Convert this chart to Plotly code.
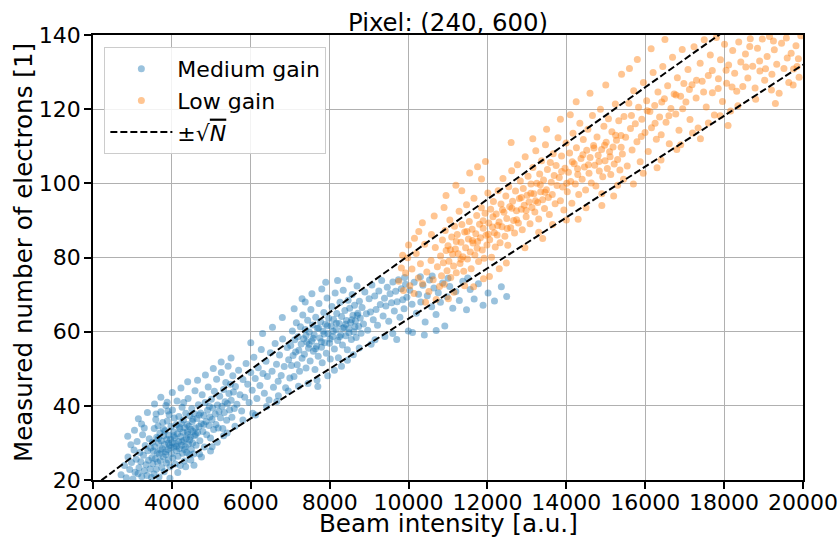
import plotly.graph_objects as go

# Medium gain samples (beam intensity [a.u.], measured electrons)
medium_points = [
    (2712,21.4),(2798,23.9),(2843,20.6),(2887,26.2),(2931,22.8),(2976,24.7),(3012,20.3),(3041,28.1),(3067,22.1),(3095,25.6),
    (3118,30.4),(3142,21.7),(3166,23.3),(3189,27.4),(3213,24.9),(3237,20.9),(3258,32.2),(3279,26.7),(3301,22.5),(3324,29.3),
    (3346,24.1),(3369,21.2),(3387,27.9),(3408,25.3),(3426,31.1),(3447,23.0),(3463,28.6),(3481,20.7),(3494,26.0),(3052,33.4),
    (2960,29.5),(3231,35.1),(2880,31.8),
    (3507,30.2),(3518,24.4),(3531,27.8),(3546,21.6),(3552,33.9),(3567,29.0),(3579,25.7),(3591,36.3),(3604,22.9),(3616,31.5),
    (3628,27.3),(3637,24.8),(3649,34.6),(3662,29.9),(3674,20.8),(3683,27.0),(3697,32.7),(3708,25.2),(3721,38.4),(3733,30.6),
    (3742,23.4),(3756,28.4),(3768,35.5),(3779,26.3),(3791,31.9),(3803,22.2),(3814,29.6),(3826,33.3),(3838,27.6),(3849,40.1),
    (3861,24.6),(3872,30.9),(3884,35.9),(3896,28.2),(3907,25.4),(3919,32.1),(3931,37.6),(3942,29.3),(3954,23.6),(3966,31.0),
    (3977,34.4),(3989,27.1),(4003,30.1),(4014,38.9),(4026,25.9),(4038,33.0),(4049,28.8),(4061,36.7),(4073,31.4),(4084,24.3),
    (4096,29.8),(4108,34.9),(4119,27.9),(4131,41.3),(4142,32.5),(4154,26.4),(4166,30.4),(4177,37.1),(4189,28.5),(4201,33.8),
    (4212,23.9),(4224,31.7),(4236,35.3),(4247,29.4),(4259,39.6),(4271,27.2),(4282,32.9),(4294,36.2),(4306,30.7),(4317,25.1),
    (4329,34.1),(4341,29.0),(4352,38.0),(4364,31.2),(4376,27.4),(4387,35.0),(4399,32.3),(4411,42.0),(4422,29.7),(4434,34.5),
    (4446,26.8),(4457,37.3),(4469,31.6),(4481,33.6),(4492,28.3),(4504,39.2),(4516,35.8),(4527,30.0),(4539,33.1),(4551,27.0),
    (4562,37.9),(4574,31.9),(4586,44.1),(4597,34.0),
    (4612,29.4),(4633,36.6),(4651,32.8),(4672,40.3),(4688,34.4),(4709,30.6),(4727,38.1),(4746,35.2),(4768,43.0),(4785,33.1),
    (4806,37.4),(4824,28.9),(4843,40.9),(4865,35.8),(4882,32.2),(4903,38.8),(4921,45.1),(4940,34.7),(4962,37.0),(4979,31.3),
    (5000,41.8),(5018,36.3),(5037,39.4),(5059,33.6),(5076,43.9),(5097,37.8),(5115,35.0),(5134,47.2),(5156,40.2),(5173,34.0),
    (5194,38.5),(5212,42.6),(5231,36.8),(5253,49.0),(5270,39.9),(5291,33.9),(5309,44.4),(5328,38.2),(5350,41.1),(5367,46.3),
    (5388,36.1),(5406,40.6),(5425,50.7),(5447,43.3),(5464,38.9),(5485,45.8),(5503,41.5),(5522,36.9),(5544,48.1),(5561,43.7),
    (5582,39.3),(4750,26.2),(5020,29.0),(5310,31.9),
    (5612,45.2),(5648,40.4),(5691,49.6),(5727,43.0),(5768,38.6),(5803,47.1),(5846,42.3),(5881,51.4),(5922,45.8),(5958,40.9),
    (5999,49.0),(6036,44.2),(6078,53.1),(6113,47.4),(6155,42.0),(6190,50.3),(6232,45.5),(6267,55.2),(6309,48.7),(6344,43.4),
    (6386,52.0),(6421,47.9),(6463,41.6),(6498,54.3),(6540,49.3),(6575,45.0),(6617,56.8),(6652,51.2),(6694,46.6),(6729,53.7),
    (6771,48.2),(6806,58.0),(6848,50.6),(6883,44.9),(6925,55.7),(6960,52.4),(6990,47.5),(6120,37.5),(6660,41.2),
    (7012,56.3),(7031,50.9),(7054,60.2),(7073,53.6),(7095,47.9),(7114,57.8),(7136,54.5),(7155,62.4),(7177,51.1),(7196,58.6),
    (7218,55.0),(7237,49.3),(7259,61.3),(7278,56.7),(7300,52.8),(7319,64.5),(7341,58.1),(7360,53.9),(7382,60.6),(7401,50.2),
    (7423,57.2),(7442,63.1),(7464,55.5),(7483,59.9),(7505,52.1),(7524,66.0),(7546,57.5),(7565,61.8),(7587,54.7),(7606,59.2),
    (7628,49.8),(7647,63.9),(7669,56.1),(7688,60.9),(7710,53.4),(7729,67.6),(7751,58.3),(7770,62.7),(7792,55.8),(7811,51.6),
    (7833,60.1),(7852,65.2),(7874,57.0),(7893,62.0),(7915,54.2),(7934,69.1),(7956,59.5),(7975,63.6),(7997,56.9),(8016,52.6),
    (8038,61.5),(8057,66.8),(8079,58.7),(8098,63.3),(8120,55.3),(8139,70.4),(8161,60.5),(8180,64.9),(8202,57.6),(8221,53.0),
    (8243,62.2),(8262,67.9),(8284,59.1),(8303,64.1),(8325,56.4),(8344,71.2),(8366,61.1),(8385,65.7),(8407,58.9),(8426,63.0),
    (8448,55.1),(8467,68.5),(8489,60.8),(8508,66.3),(8530,62.5),(8549,57.9),(8571,70.0),(8590,64.4),(8612,60.0),(8631,67.1),
    (8653,62.9),(8672,58.4),(8694,72.3),(8713,65.0),(8735,61.4),(8754,68.2),(8776,63.7),(8795,59.6),(7210,45.3),(7680,47.0),
    (8120,49.6),(8450,52.3),(7380,68.0),(7800,71.5),
    (8821,66.5),(8858,62.1),(8892,70.7),(8929,64.8),(8963,60.4),(9000,68.9),(9034,65.3),(9071,72.6),(9105,63.2),(9142,69.6),
    (9176,66.0),(9213,61.7),(9247,71.0),(9284,67.3),(9318,73.8),(9355,64.2),(9389,69.0),(9426,66.9),(9460,72.0),(9497,62.8),
    (9531,70.2),(9568,67.8),(9602,73.4),(9639,65.6),(9673,70.9),(9710,68.1),(9744,74.0),(9781,63.9),(9815,71.6),(9852,68.6),
    (9886,66.2),(9923,72.8),(9957,69.3),(9994,60.2),(9150,57.8),(9600,59.5),
    (10031,71.2),(10088,67.4),(10142,73.3),(10199,65.0),(10253,70.1),(10310,68.0),(10364,72.5),(10421,62.6),(10475,69.7),(10532,73.9),
    (10586,66.7),(10643,71.8),(10697,64.6),(10754,70.5),(10808,67.9),(10865,73.1),(10919,61.5),(10976,69.4),(11043,72.2),(11121,66.3),
    (11198,70.8),(11287,68.4),(11376,73.6),(11469,65.9),(11562,71.4),(11663,68.8),(11771,72.9),(11889,67.1),(12016,70.4),(12178,68.3),
    (12352,72.1),(12488,69.5),
    # outer parts of the cloud
    (3150,36.5),(3380,38.2),(3560,40.5),(3720,42.3),(3880,41.0),(4010,43.6),(4230,44.8),(4400,46.5),(4150,22.0),(4350,23.6),
    (4480,25.4),(3950,20.5),(4560,24.0),(4700,27.0),(4980,27.8),(5150,30.2),(5400,32.7),(5600,34.5),(5800,36.2),(3300,34.0),
    (3600,37.8),(3900,38.6),(4300,40.9),(4650,46.9),(4850,48.3),(5050,50.1),(5250,51.8),(5500,52.9),
    (3655,31.2),(3712,28.1),(3788,33.7),(3845,26.9),(3911,30.0),(3973,28.7),(4045,31.9),(4118,29.1),(4187,34.3),(4255,30.3),
    (4322,28.2),(4391,33.0),(4455,30.8),(4533,36.4),(4605,32.3),(4690,37.5),(4810,35.0),(4950,39.8),
    (6000,57.0),(6300,59.5),(6550,61.2),(6800,63.8),(6050,38.0),(6400,39.8),(6700,42.7),(6950,44.0),
    (7100,66.2),(7300,68.9),(7550,70.2),(7900,73.3),(8200,73.8),(8500,74.2),(7450,46.0),(7700,45.2),(7950,48.1),(8300,50.7),
    (8600,53.8),(8750,55.6),
    (7580,58.2),(7640,55.4),(7720,61.0),(7790,57.3),(7860,59.4),(7940,61.6),(8010,58.0),(8090,60.1),(8170,62.3),(8250,58.6),
    (8330,60.9),(8410,62.0),(8490,59.7),(8560,63.2),(7480,56.6),(7400,59.0),(8640,61.3),(8700,64.4),
    (9050,56.6),(9400,58.7),(9700,57.9),(10100,59.8),(10400,59.1),(10700,60.3),(9900,74.6),(10300,74.8),(10600,75.0),(11000,74.4),
    (11500,74.5),
]

# Low gain samples (beam intensity [a.u.], measured electrons)
low_points = [
    (9752,73.6),(9818,77.2),(9871,71.1),(9925,75.8),(9979,79.9),(10033,72.4),(10086,76.9),(10140,70.3),(10194,81.1),(10248,74.5),
    (10301,78.3),(10355,72.9),(10409,83.6),(10463,76.1),(10516,70.8),(10570,79.2),(10624,74.0),(10678,82.7),(10731,77.5),(10785,72.2),
    (10260,87.0),(10580,86.2),(10430,67.9),
    (10812,80.4),(10835,75.1),(10859,84.7),(10882,78.6),(10906,72.8),(10929,87.3),(10953,81.9),(10976,76.4),(11000,83.2),(11023,79.0),
    (11047,90.1),(11070,74.6),(11094,85.5),(11117,80.9),(11141,77.7),(11164,88.4),(11188,82.3),(11211,75.9),(11235,86.2),(11258,81.0),
    (11282,92.5),(11305,78.4),(11329,84.1),(11352,88.9),(11376,80.2),(11399,76.3),(11423,86.9),(11446,82.6),(11470,94.2),(11493,79.6),
    (11517,85.0),(11540,89.7),(11564,81.5),(11587,77.0),(11611,87.6),(11634,83.9),(11658,96.0),(11681,80.7),(11705,86.4),(11728,91.3),
    (11752,84.3),(11775,78.9),(11799,89.0),(11822,85.3),(11846,93.4),(11869,82.0),(11893,87.9),(11916,79.8),(11940,91.9),(11963,86.0),
    (11987,83.4),(12010,97.4),(12034,89.3),(12057,84.8),(12081,93.0),(12104,80.1),(12128,88.2),(12151,95.1),(12175,86.7),(12198,82.8),
    (11010,68.9),(11420,72.4),(11900,74.3),(10900,93.5),(11350,98.0),(11850,101.2),
    (12222,91.7),(12246,86.1),(12271,98.0),(12295,89.6),(12320,84.0),(12344,94.4),(12369,88.3),(12393,101.3),(12418,92.2),(12442,85.7),
    (12467,96.6),(12491,90.5),(12516,83.3),(12540,99.1),(12565,93.7),(12589,88.0),(12614,103.4),(12638,95.2),(12663,90.0),(12687,86.6),
    (12712,97.9),(12736,92.6),(12761,105.0),(12785,89.3),(12810,95.9),(12834,100.6),(12859,93.0),(12883,87.5),(12908,98.6),(12932,94.1),
    (12957,107.2),(12981,91.0),(13006,96.8),(13030,101.9),(13055,95.0),(13079,89.1),(13104,99.8),(13128,93.5),(13153,104.3),(13177,97.2),
    (13202,92.3),(13226,108.8),(13251,100.0),(13275,94.8),(13300,90.4),(13324,102.5),(13349,97.7),(13373,106.1),(13398,95.6),(13422,100.9),
    (13447,93.2),(13471,110.4),(13496,98.3),(13520,103.7),(13545,96.2),(13569,91.6),(13594,105.6),(13618,100.3),(13643,97.0),(13667,108.0),
    (13692,102.1),(13716,94.5),(13741,104.8),(13765,99.4),(13790,112.3),(12480,78.5),(12950,82.6),(13400,85.1),(12600,111.0),
    (13821,101.6),(13850,95.3),(13879,107.4),(13908,99.0),(13937,92.8),(13966,104.1),(13995,110.9),(14024,97.7),(14053,103.0),(14082,108.2),
    (14111,100.5),(14140,94.6),(14169,113.5),(14198,105.3),(14227,99.8),(14256,109.6),(14285,103.9),(14314,97.0),(14343,116.2),(14372,106.7),
    (14401,101.1),(14430,111.8),(14459,104.4),(14488,98.2),(14517,108.9),(14546,114.6),(14575,102.7),(14604,107.0),(14633,100.1),(14662,118.3),
    (14691,110.2),(14720,104.9),(14749,99.3),(14778,112.5),(14807,107.6),(14836,103.3),(14865,120.0),(14894,109.1),(14923,101.8),(14952,115.4),
    (14981,106.1),(15010,111.1),(15039,104.0),(15068,117.4),(15097,108.5),(15126,102.4),(15155,113.9),(15184,109.8),(15213,105.2),(15242,121.4),
    (15271,111.6),(15300,106.4),(15329,116.9),(15358,103.6),(15387,112.9),(14300,90.3),(14900,94.0),(15200,96.6),(14100,118.5),
    (15421,107.9),(15462,118.0),(15503,112.4),(15544,104.7),(15585,121.6),(15626,114.8),(15667,109.0),(15708,125.0),(15749,116.1),(15790,111.2),
    (15831,120.5),(15872,105.8),(15913,117.3),(15954,127.2),(15995,113.7),(16036,122.3),(16077,108.6),(16118,119.4),(16159,115.0),(16200,129.9),
    (16241,121.0),(16282,111.9),(16323,124.6),(16364,117.9),(16405,113.1),(16446,131.5),(16487,122.8),(16528,116.5),(16569,126.3),(16610,110.7),
    (16651,120.2),(16692,134.0),(16733,124.1),(16774,118.7),(16815,128.5),(16856,114.3),(16897,123.5),(16938,136.1),(16979,126.9),(15700,99.8),
    (16300,104.2),(16900,110.4),(15600,131.0),
    (17032,121.9),(17084,130.7),(17135,117.2),(17187,126.6),(17238,136.8),(17290,123.0),(17341,114.9),(17393,132.4),(17444,127.5),(17496,138.7),
    (17547,120.6),(17599,129.1),(17650,134.6),(17702,124.4),(17753,118.4),(17805,139.3),(17856,128.2),(17908,133.3),(17959,122.1),(18011,137.5),
    (18062,127.0),(18114,131.9),(18165,119.5),(18217,135.8),(18268,129.7),(18320,124.8),(18371,138.1),(18423,132.7),(18474,126.1),(17400,112.0),
    (18100,115.6),
    (18541,134.9),(18602,128.4),(18663,139.0),(18724,131.6),(18785,125.7),(18846,136.4),(18907,130.3),(18968,138.9),(19029,127.8),(19090,134.2),
    (19151,139.6),(19212,129.4),(19273,136.0),(19334,132.1),(19395,124.3),(19456,137.8),(19517,131.0),(19578,139.2),(19639,127.2),(19700,135.1),
    (19761,130.8),(19822,137.1),(19883,133.6),(19944,139.8),(19300,121.5),
    # outer parts of the cloud
    (10150,85.2),(10350,89.4),(10650,91.2),(10950,96.7),(11200,99.5),(11550,102.8),(11750,104.5),(11950,105.9),(10700,68.7),(11150,70.6),
    (11650,72.1),(12050,74.9),(12300,77.0),(9850,80.6),(10000,83.4),
    (11060,82.1),(11210,84.3),(11330,79.5),(11480,87.0),(11620,84.6),(11740,82.5),(11890,89.9),(12020,86.3),(12140,91.0),(12260,88.6),
    (12380,92.9),(12500,87.8),(12620,93.3),(12740,90.2),(12860,96.2),(12980,92.7),(13100,97.3),(13220,95.3),(13340,99.6),(13460,97.6),
    (13150,112.0),(13500,114.6),(13850,117.3),(14250,122.0),(14600,124.3),(15000,126.5),(15400,129.4),(13300,86.8),(13650,88.9),(14000,90.1),
    (14500,93.4),(14900,97.2),(15300,99.5),(15450,101.1),
    (13880,103.2),(14010,100.0),(14150,105.8),(14290,102.4),(14420,107.7),(14560,105.0),(14700,109.5),(14830,105.9),(14970,110.3),(15110,107.2),
    (15250,113.0),(15390,109.7),
    (15800,133.4),(16150,136.3),(16500,138.8),(15950,102.7),(16400,106.3),(16800,109.1),(17200,113.6),(17600,116.3),(17900,118.2),
    (15650,118.3),(15900,112.6),(16050,119.6),(16250,116.2),(16420,121.9),(16600,118.2),(16780,123.8),(16950,120.1),(17120,125.3),(17300,127.8),
    (17480,124.6),(17700,130.4),(17850,125.6),(18050,130.5),
    (18200,126.0),(18550,131.4),(18900,133.0),(19250,138.4),(19600,133.8),(19900,128.6),(18350,120.9),(18800,122.7),(19200,125.2),(19750,126.5),
    (19850,131.5),(18650,136.9),(19050,130.9),
]

medium_x = [p[0] for p in medium_points]
medium_y = [p[1] for p in medium_points]
low_x = [p[0] for p in low_points]
low_y = [p[1] for p in low_points]

# ±sqrt(N) band
band_x = [2000, 4000, 6000, 8000, 10000, 12000, 14000, 16000, 18000, 20000]
band_upper = [18.2, 34.2, 49.8, 65.2, 80.5, 95.7, 110.8, 125.9, 141.0, 156.0]
band_lower = [10.6, 23.4, 36.6, 50.0, 63.5, 77.1, 90.8, 104.5, 118.2, 132.0]

blue = "#1f77b4"
orange = "#ff7f0e"
FONT = "DejaVu Sans"

fig = go.Figure()
fig.add_trace(go.Scatter(x=medium_x, y=medium_y, mode="markers", name="Medium gain",
                         marker=dict(color=blue, size=7, opacity=0.45, line=dict(width=0))))
fig.add_trace(go.Scatter(x=low_x, y=low_y, mode="markers", name="Low gain",
                         marker=dict(color=orange, size=7, opacity=0.45, line=dict(width=0))))
fig.add_trace(go.Scatter(x=band_x, y=band_upper, mode="lines",
                         name="±√<span style='text-decoration:overline'><i>N</i></span>",
                         line=dict(color="black", width=2, dash="7px,3px"), line_shape="spline"))
fig.add_trace(go.Scatter(x=band_x, y=band_lower, mode="lines", showlegend=False,
                         line=dict(color="black", width=2, dash="7px,3px"), line_shape="spline"))

axis_common = dict(showline=True, linecolor="black", linewidth=1.5, mirror=True,
                   ticks="outside", ticklen=7, tickwidth=1.5, tickcolor="black",
                   showgrid=True, gridcolor="#b0b0b0", gridwidth=1, zeroline=False,
                   tickformat="d", automargin=False,
                   tickfont=dict(family=FONT, size=22, color="black"))

fig.update_layout(
    template="none",
    width=840, height=543,
    margin=dict(l=93, r=37, t=35, b=63, autoexpand=False),
    paper_bgcolor="white", plot_bgcolor="white",
    font=dict(family=FONT, size=22, color="black"),
    title=dict(text="Pixel: (240, 600)", x=448 / 840, xanchor="center",
               y=1 - 22 / 543, yanchor="middle", font=dict(family=FONT, size=24.4, color="black")),
    xaxis=dict(range=[2000, 20000], dtick=2000, tick0=2000, ticklabelstandoff=-5, **axis_common),
    yaxis=dict(range=[20, 140], dtick=20, tick0=20, ticklabelstandoff=-1, **axis_common),
    legend=dict(x=0.016, y=0.973, xanchor="left", yanchor="top",
                bgcolor="rgba(255,255,255,0.85)", bordercolor="#cccccc", borderwidth=1,
                font=dict(family=FONT, size=22, color="black"), itemwidth=62),
    showlegend=True,
    annotations=[
        dict(text="Beam intensity [a.u.]", xref="paper", yref="paper", x=0.5, y=-43 / 445,
             xanchor="center", yanchor="middle", showarrow=False,
             font=dict(family=FONT, size=24.6, color="black")),
        dict(text="Measured number of electrons [1]", xref="paper", yref="paper", x=-70 / 710, y=0.51,
             xanchor="center", yanchor="middle", textangle=-90, showarrow=False,
             font=dict(family=FONT, size=24.6, color="black")),
    ],
)

fig.write_html("out.html", config={"displayModeBar": False},
               post_script="document.body.style.margin='0';document.body.style.overflow='hidden';")
